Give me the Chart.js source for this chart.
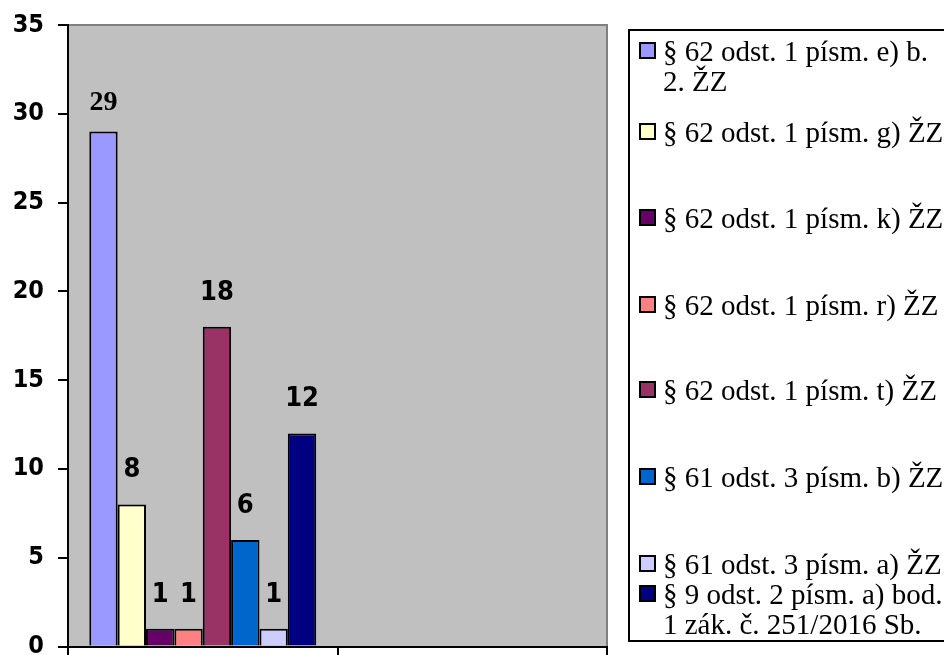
<!DOCTYPE html>
<html>
<head>
<meta charset="utf-8">
<script src="https://cdn.jsdelivr.net/npm/chart.js@4/dist/chart.umd.min.js"></script>
<style>
  html, body { margin: 0; padding: 0; background: #fff; }
  #wrap { position: relative; width: 944px; height: 655px; overflow: hidden; }
  #legend {
    position: absolute; left: 628px; top: 29px; width: 340px; height: 613px;
    border: 2px solid #000; box-sizing: border-box;
  }
  .item { position: absolute; left: 9px; width: 310px; font: 29px "Liberation Serif", "Times New Roman", serif; line-height: 30px; color: #000; }
  .sw { position: absolute; left: 0; top: 6px; width: 13px; height: 13px; border: 2px solid #000; }
  .txt { position: absolute; left: 24px; width: 285px; }
</style>
</head>
<body>
<div id="wrap">
  <canvas id="chart" width="944" height="655"></canvas>
  <div id="legend"></div>
</div>
<script>
"use strict";

const categories = ["", ""];
const seriesNames = [
  "§ 62 odst. 1 písm. e) b. 2. ŽZ",
  "§ 62 odst. 1 písm. g) ŽZ",
  "§ 62 odst. 1 písm. k) ŽZ",
  "§ 62 odst. 1 písm. r) ŽZ",
  "§ 62 odst. 1 písm. t) ŽZ",
  "§ 61 odst. 3 písm. b) ŽZ",
  "§ 61 odst. 3 písm. a) ŽZ",
  "§ 9 odst. 2 písm. a) bod. 1 zák. č. 251/2016 Sb.",
];
const seriesValues = [29, 8, 1, 1, 18, 6, 1, 12];
const colors = ["#9999ff", "#ffffcc", "#660066", "#ff8080", "#993366", "#0066cc", "#ccccff", "#000080"];
const yTicks = [0, 5, 10, 15, 20, 25, 30, 35];

// legend rows, top offset of each entry inside the box (px)
const legendTops = [5, 86, 172, 259, 344, 431, 518, 548];

const SANS = '"DejaVu Sans Condensed", "DejaVu Sans", sans-serif';

const plotBg = {
  id: "plotBg",
  beforeDraw(chart) {
    const { ctx, chartArea: a } = chart;
    ctx.save();
    ctx.fillStyle = "#fff";
    ctx.fillRect(0, 0, chart.width, chart.height);
    ctx.fillStyle = "#c0c0c0";
    ctx.fillRect(a.left, a.top, a.right - a.left, a.bottom - a.top);
    ctx.strokeStyle = "#808080";
    ctx.lineWidth = 2;
    ctx.beginPath();
    ctx.moveTo(a.left, a.top);
    ctx.lineTo(a.right, a.top);
    ctx.lineTo(a.right, a.bottom);
    ctx.stroke();
    ctx.restore();
  },
};

const valueLabels = {
  id: "valueLabels",
  afterDatasetsDraw(chart) {
    const ctx = chart.ctx;
    ctx.save();
    ctx.fillStyle = "#000";
    ctx.textAlign = "center";
    ctx.textBaseline = "middle";
    chart.data.datasets.forEach((ds, i) => {
      chart.getDatasetMeta(i).data.forEach((el, j) => {
        const v = ds.data[j];
        if (v == null) return;
        if (i === 0) {
          ctx.font = 'bold 28px "Liberation Serif", serif';
          ctx.fillText(String(v), el.x, el.y - 29);
        } else {
          ctx.font = "bold 27px " + SANS;
          ctx.fillText(String(v), el.x, el.y - 34);
        }
      });
    });
    ctx.restore();
  },
};

const datasets = seriesNames.map((name, i) => ({
  label: name,
  data: [seriesValues[i], null],
  backgroundColor: colors[i],
  borderColor: "#000",
  borderWidth: 2,
  categoryPercentage: 0.842,
  barPercentage: 1,
}));

new Chart(document.getElementById("chart"), {
  type: "bar",
  data: { labels: categories, datasets },
  plugins: [plotBg, valueLabels],
  options: {
    responsive: false,
    animation: false,
    layout: { padding: { top: 25, right: 337, left: 0, bottom: 0 } },
    plugins: { legend: { display: false }, tooltip: { enabled: false } },
    scales: {
      x: {
        offset: true,
        grid: { offset: true, drawOnChartArea: false, color: "#000", lineWidth: 2, tickLength: 9 },
        border: { color: "#000", width: 2 },
        ticks: { display: false },
        afterFit(s) { s.height = 8.5; },
      },
      y: {
        min: 0, max: 35,
        afterBuildTicks(s) { s.ticks = yTicks.map((v) => ({ value: v })); },
        grid: { drawOnChartArea: false, color: "#000", lineWidth: 2, tickLength: 10 },
        border: { color: "#000", width: 2 },
        ticks: { color: "#000", padding: 14, font: { family: SANS, size: 25, weight: "bold" } },
        afterFit(s) { s.width = 68; s.paddingTop = 0; s.paddingBottom = 0; },
      },
    },
  },
});

const legend = document.getElementById("legend");
seriesNames.forEach((name, i) => {
  const row = document.createElement("div");
  row.className = "item";
  row.style.top = legendTops[i] + "px";
  row.innerHTML = `<span class="sw" style="background:${colors[i]}"></span><span class="txt"></span>`;
  row.querySelector(".txt").textContent = name;
  legend.appendChild(row);
});
</script>
</body>
</html>
